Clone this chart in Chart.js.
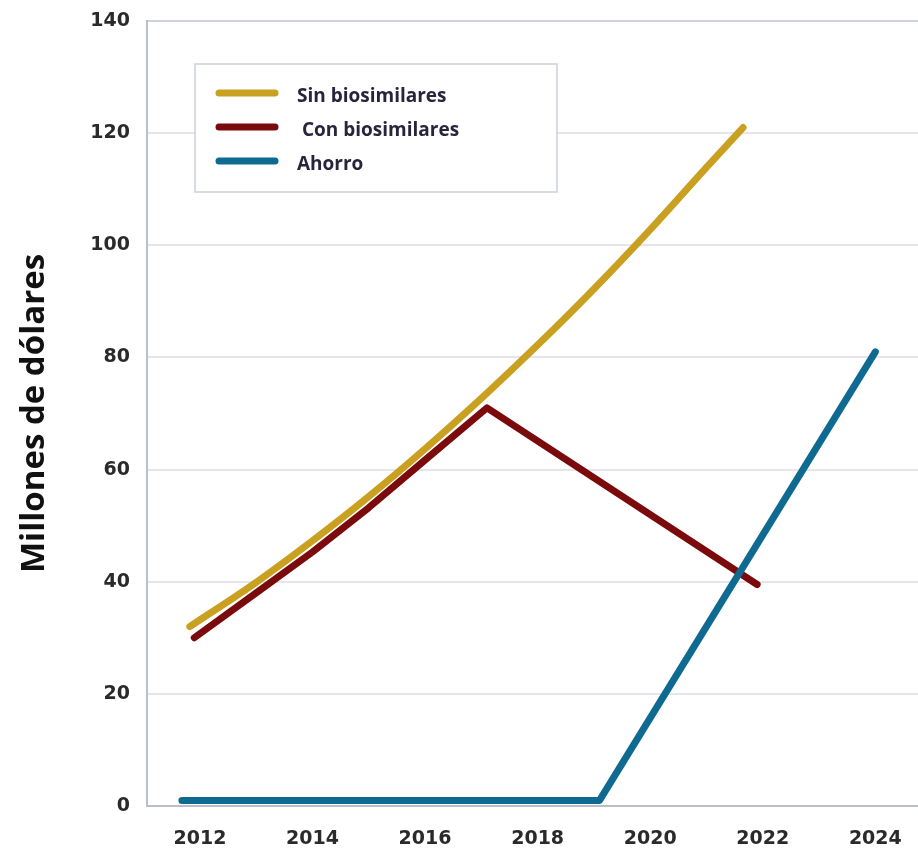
<!DOCTYPE html>
<html>
<head>
<meta charset="utf-8">
<script src="https://cdn.jsdelivr.net/npm/chart.js@4.4.1/dist/chart.umd.min.js"></script>
<style>
  html, body { margin: 0; padding: 0; background: #fff; overflow: hidden; }
</style>
</head>
<body>
<canvas id="gastoChart" width="926" height="855"></canvas>
<script>
// --- Datos: gasto proyectado (millones de dólares) ---
const aniosSin = [2011.82, 2013, 2014, 2015, 2016, 2017, 2018, 2019, 2020, 2021, 2021.65];
const valoresSin = [32, 39.9, 47.3, 55.2, 63.7, 72.7, 82.2, 92.2, 102.8, 113.9, 121];

const aniosCon = [2011.9, 2013, 2014, 2015, 2016, 2017.1, 2021.9];
const valoresCon = [30, 38, 45.3, 53.2, 61.7, 71, 39.5];

const aniosAhorro = [2011.68, 2019.1, 2024];
const valoresAhorro = [1, 1, 81];

const ticksX = [2012, 2014, 2016, 2018, 2020, 2022, 2024];
const ticksY = [0, 20, 40, 60, 80, 100, 120, 140];

const etiquetas = ['Sin biosimilares', ' Con biosimilares', 'Ahorro'];
const colores = ['#C9A01F', '#7A0A0C', '#0F6A92'];

const puntos = (xs, ys) => xs.map((x, i) => ({ x: x, y: ys[i] }));

// leyenda dentro del área del gráfico, con su recuadro
const leyenda = {
    id: 'leyenda',
    afterDraw(chart) {
        const ctx = chart.ctx;
        ctx.save();
        ctx.fillStyle = '#fff';
        ctx.fillRect(195, 64, 362, 128);
        ctx.strokeStyle = '#c9cfdc';
        ctx.lineWidth = 1.5;
        ctx.strokeRect(195, 64, 362, 128);
        chart.data.datasets.forEach((ds, i) => {
            const y = 93 + i * 34;
            ctx.strokeStyle = ds.borderColor;
            ctx.lineWidth = 7;
            ctx.lineCap = 'round';
            ctx.beginPath();
            ctx.moveTo(219, y);
            ctx.lineTo(275, y);
            ctx.stroke();
            ctx.fillStyle = '#28243c';
            ctx.font = 'bold 19px "Open Sans"';
            ctx.textBaseline = 'middle';
            ctx.fillText(ds.label, 297, y + 4);
        });
        ctx.restore();
    }
};

const ctx = document.getElementById('gastoChart').getContext('2d');
new Chart(ctx, {
    type: 'line',
    data: {
        datasets: [
            {
                label: etiquetas[0],
                data: puntos(aniosSin, valoresSin),
                borderColor: colores[0],
                cubicInterpolationMode: 'monotone',
                order: 2
            },
            {
                label: etiquetas[1],
                data: puntos(aniosCon, valoresCon),
                borderColor: colores[1],
                order: 1
            },
            {
                label: etiquetas[2],
                data: puntos(aniosAhorro, valoresAhorro),
                borderColor: colores[2],
                order: 0
            }
        ]
    },
    options: {
        responsive: false,
        animation: false,
        layout: { padding: { top: 21, right: 0, bottom: 0, left: 0 } },
        elements: {
            line: { borderWidth: 7, borderCapStyle: 'round', borderJoinStyle: 'round', fill: false },
            point: { radius: 0 }
        },
        plugins: {
            legend: { display: false },
            tooltip: { enabled: false }
        },
        scales: {
            x: {
                type: 'linear',
                min: 2011.06,
                max: 2024.9,
                afterBuildTicks: scale => { scale.ticks = ticksX.map(v => ({ value: v })); },
                afterFit: scale => { scale.height = 49; },
                grid: { drawOnChartArea: false, drawTicks: false },
                border: { display: true, color: '#b9bec9', width: 2 },
                ticks: {
                    padding: 22,
                    color: '#2a2a2a',
                    font: { family: 'DejaVu Sans', weight: 'bold', size: 19 },
                    callback: v => String(v)
                }
            },
            y: {
                min: 0,
                max: 140,
                afterBuildTicks: scale => { scale.ticks = ticksY.map(v => ({ value: v })); },
                afterFit: scale => {
                    scale.width = 147;
                    scale.paddingTop = 0;
                    scale.paddingBottom = 0;
                },
                grid: {
                    drawTicks: false,
                    lineWidth: 2,
                    color: c => (c.tick && c.tick.value === 140) ? '#cdd2de' : '#e4e6ec'
                },
                border: { display: true, color: '#b7bfd3', width: 2 },
                title: {
                    display: true,
                    text: 'Millones de dólares',
                    color: '#111',
                    font: { family: 'Open Sans', weight: 'bold', size: 33 },
                    padding: { top: 15, bottom: 0 }
                },
                ticks: {
                    padding: 17,
                    color: '#2a2a2a',
                    font: { family: 'DejaVu Sans', weight: 'bold', size: 19 }
                }
            }
        }
    },
    plugins: [leyenda]
});
</script>
</body>
</html>
